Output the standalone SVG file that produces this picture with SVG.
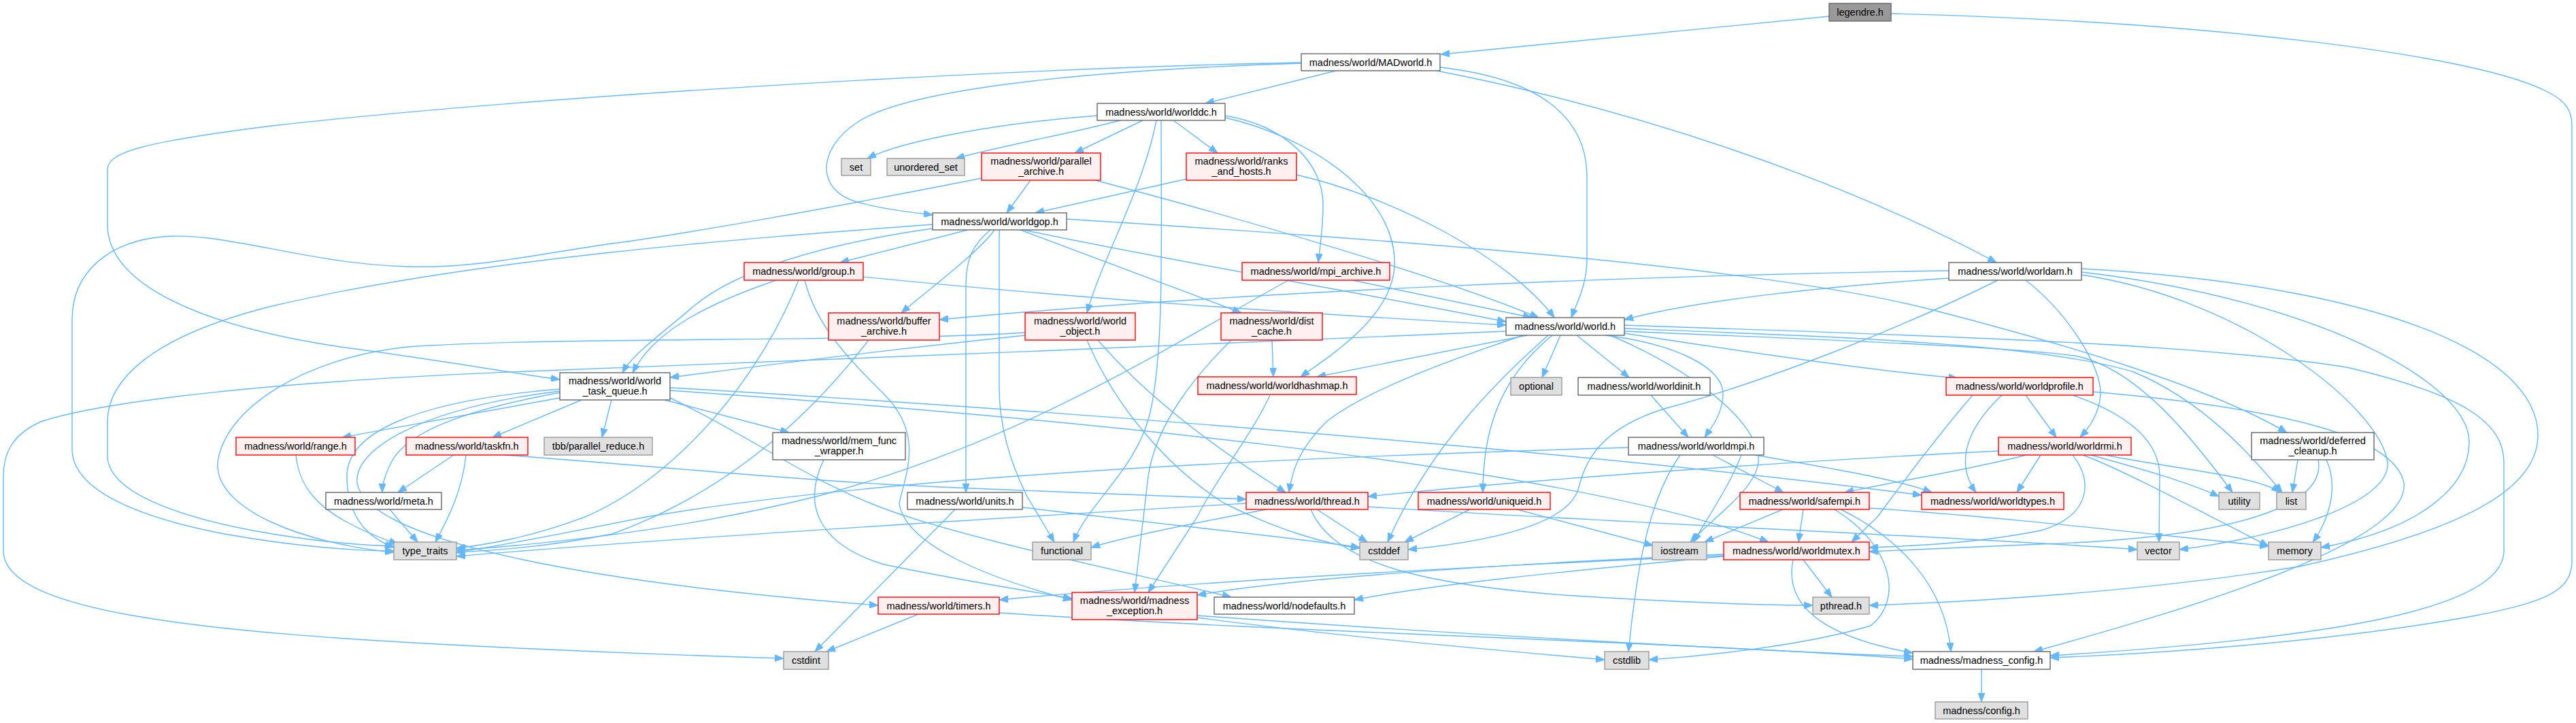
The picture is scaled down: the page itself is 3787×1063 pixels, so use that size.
<svg xmlns="http://www.w3.org/2000/svg" width="3787" height="1063" viewBox="0 0 3787 1063">
<defs>
<marker id="ah" viewBox="0 0 13 10" refX="13" refY="5" markerWidth="13" markerHeight="10" markerUnits="userSpaceOnUse" orient="auto"><path d="M0,0L13,5L0,10z" fill="#63B8FF" stroke="#63B8FF" stroke-width="1"/></marker>
</defs>
<style>
.e{fill:none;stroke:#63B8FF;stroke-width:1.4;marker-end:url(#ah)}
.w{fill:#fff;stroke:#666;stroke-width:1.4}
.r{fill:#FFF0F0;stroke:#F00;stroke-width:1.4}
.g{fill:#E0E0E0;stroke:#999;stroke-width:1.4}
.d{fill:#999;stroke:#666;stroke-width:1.4}
text{font-family:"Liberation Sans",Arial,sans-serif;font-size:14.5px;text-anchor:middle;fill:#000}
</style>
<rect width="3787" height="1063" fill="#fff"/>
<g id="edges">
<path class="e" d="M2689,24 L2118,80"/>
<path class="e" d="M2780,20 C3250,32 3640,80 3745,135 C3775,150 3781,165 3781,185 L3781,825 C3781,870 3740,885 3640,905 C3450,940 3200,960 3014,967"/>
<path class="e" d="M1964,104 L1772,152"/>
<path class="e" d="M1913,93 C1700,100 1350,120 1260,180 C1200,220 1200,280 1260,297 C1300,308 1340,312 1371,316"/>
<path class="e" d="M1913,92 C1500,100 800,140 400,185 C200,210 158,225 158,250 L158,330 C158,420 300,480 500,510 C650,530 750,548 823,558"/>
<path class="e" d="M2112,104 C2400,160 2700,260 2935,386"/>
<path class="e" d="M2117,99 C2260,115 2333,170 2333,260 L2333,380 C2333,420 2318,445 2310,467"/>
<path class="e" d="M1613,170 C1480,180 1330,205 1275,233"/>
<path class="e" d="M1647,177 C1580,195 1470,215 1405,233"/>
<path class="e" d="M1680,177 L1580,225"/>
<path class="e" d="M1725,177 L1790,225"/>
<path class="e" d="M1707,177 C1707,350 1712,520 1690,610 C1670,690 1600,740 1578,797"/>
<path class="e" d="M1700,177 C1680,280 1620,380 1598,460"/>
<path class="e" d="M1801,170 C1890,185 1945,240 1945,300 C1945,340 1940,365 1938,386"/>
<path class="e" d="M1801,173 C1920,200 2045,280 2050,380 C2055,460 1960,520 1912,554"/>
<path class="e" d="M1515,265 L1480,313"/>
<path class="e" d="M1610,265 C1800,315 2100,400 2262,467"/>
<path class="e" d="M1443,262 C1200,310 1000,345 900,358 C780,375 700,395 600,392 C450,388 330,340 240,348 C160,355 106,400 106,470 L106,660 C106,720 200,760 330,785 C430,803 520,810 579,810"/>
<path class="e" d="M1745,263 L1522,313"/>
<path class="e" d="M1906,257 C2050,290 2220,380 2285,467"/>
<path class="e" d="M1423,338 L1235,386"/>
<path class="e" d="M1456,338 C1430,360 1420,380 1420,420 L1420,724"/>
<path class="e" d="M1462,338 C1440,370 1360,430 1325,460"/>
<path class="e" d="M1469,338 L1469,570 C1469,640 1495,700 1510,730 L1550,797"/>
<path class="e" d="M1500,338 L1825,460"/>
<path class="e" d="M1505,338 C1700,380 2000,430 2214,473"/>
<path class="e" d="M1371,330 C1100,350 700,380 400,450 C220,495 158,560 158,620 L158,670 C158,720 250,760 400,785 C480,798 540,802 579,803"/>
<path class="e" d="M1371,336 C1200,360 1080,400 1020,450 C980,485 930,520 915,548"/>
<path class="e" d="M1568,322 C2000,350 2600,390 2850,458 C3050,510 3250,570 3362,636"/>
<path class="e" d="M1141,412 C1030,450 960,490 930,548"/>
<path class="e" d="M1269,407 C1600,440 1900,460 2214,478"/>
<path class="e" d="M1174,412 C1120,550 1000,700 860,760 C780,790 720,800 671,806"/>
<path class="e" d="M1183,412 C1200,480 1250,530 1300,580 C1360,640 1330,700 1322,740 C1330,800 1450,850 1576,882"/>
<path class="e" d="M1988,412 L2252,467"/>
<path class="e" d="M1894,412 C1700,520 1500,650 1200,730 C1000,780 800,800 671,809"/>
<path class="e" d="M2865,409 C2700,420 2500,440 2388,470"/>
<path class="e" d="M2865,398 C2400,405 1800,430 1381,470"/>
<path class="e" d="M2978,412 C3040,460 3090,540 3088,580 C3086,610 3070,630 3058,643"/>
<path class="e" d="M2937,412 C2800,480 2600,560 2450,600 C2350,630 2330,680 2320,720 C2300,780 2150,800 2070,808"/>
<path class="e" d="M3060,404 C3300,440 3500,600 3510,680 C3515,740 3350,790 3204,808"/>
<path class="e" d="M3060,400 C3400,440 3630,560 3630,650 C3630,720 3550,780 3412,805"/>
<path class="e" d="M3060,395 C3500,420 3731,520 3731,640 C3731,720 3620,780 3380,833 C3150,870 2900,885 2748,890"/>
<path class="e" d="M1277,500 C1200,600 1080,720 900,785 C800,805 720,810 671,812"/>
<path class="e" d="M1507,493 C1300,515 1100,540 985,555"/>
<path class="e" d="M1507,489 C1300,503 800,495 600,510 C450,525 330,600 320,680 C315,750 450,800 579,812"/>
<path class="e" d="M1614,500 C1700,600 1820,680 1890,724"/>
<path class="e" d="M1598,500 C1640,600 1720,690 1800,740 C1880,780 1950,800 1999,806"/>
<path class="e" d="M1870,500 L1872,554"/>
<path class="e" d="M1810,500 C1760,550 1700,620 1688,700 L1668,871"/>
<path class="e" d="M2245,493 L1936,554"/>
<path class="e" d="M2294,493 L2267,555"/>
<path class="e" d="M2318,493 L2395,555"/>
<path class="e" d="M2360,493 C2460,505 2535,540 2533,580 C2532,610 2515,630 2506,643"/>
<path class="e" d="M2388,490 C2550,515 2750,545 2878,556"/>
<path class="e" d="M2214,487 C1800,505 1200,530 800,545 C400,560 150,590 60,620 C15,640 5,670 5,700 L5,810 C5,900 300,930 700,950 C900,960 1050,965 1152,968"/>
<path class="e" d="M2239,493 C2100,540 2000,580 1950,620 C1910,660 1900,690 1895,724"/>
<path class="e" d="M2276,493 C2200,560 2100,660 2040,797"/>
<path class="e" d="M2282,493 C2200,560 2180,640 2180,724"/>
<path class="e" d="M2367,493 C2480,540 2590,620 2585,680 C2580,720 2520,760 2485,797"/>
<path class="e" d="M2388,478 C2700,490 3200,500 3450,540 C3620,580 3681,620 3681,680 L3681,810 C3681,900 3400,940 3014,964"/>
<path class="e" d="M2388,483 C2700,495 3000,505 3137,547 C3240,590 3310,670 3355,724"/>
<path class="e" d="M2388,487 C2700,500 2950,510 3050,523 C3140,540 3220,640 3282,724"/>
<path class="e" d="M2427,581 L2482,643"/>
<path class="e" d="M2978,581 L3023,643"/>
<path class="e" d="M2943,581 C2880,640 2880,690 2905,724"/>
<path class="e" d="M2900,581 C2840,650 2790,720 2760,760 L2722,797"/>
<path class="e" d="M3077,576 C3350,600 3520,640 3534,710 C3545,800 3200,900 2990,958"/>
<path class="e" d="M3047,581 C3130,610 3175,650 3175,700 L3174,797"/>
<path class="e" d="M2978,669 C2900,690 2800,705 2712,724"/>
<path class="e" d="M2938,663 C2700,675 2300,700 2011,730"/>
<path class="e" d="M3000,669 L2965,724"/>
<path class="e" d="M3074,669 C3150,690 3220,710 3262,730"/>
<path class="e" d="M3095,669 C3200,690 3320,700 3352,724"/>
<path class="e" d="M3062,669 C3120,690 3250,760 3335,803"/>
<path class="e" d="M3047,669 C3080,710 3070,760 3000,780 C2900,800 2800,803 2748,805"/>
<path class="e" d="M3378,676 L3370,724"/>
<path class="e" d="M3420,676 C3440,720 3420,770 3400,797"/>
<path class="e" d="M3408,676 C3420,740 3300,790 3000,800 C2880,805 2800,809 2748,811"/>
<path class="e" d="M823,585 L503,643"/>
<path class="e" d="M855,588 L724,643"/>
<path class="e" d="M899,588 L885,643"/>
<path class="e" d="M977,588 L1160,636"/>
<path class="e" d="M824,577 C700,600 600,630 575,680 C565,700 562,715 562,724"/>
<path class="e" d="M823,572 C600,590 510,640 510,700 C510,760 540,790 579,805"/>
<path class="e" d="M823,575 C620,600 520,660 525,710 C540,800 900,860 1291,890"/>
<path class="e" d="M985,585 C1100,640 1180,700 1280,740 C1400,790 1700,850 1810,878"/>
<path class="e" d="M985,570 C1500,600 2300,660 2825,728"/>
<path class="e" d="M985,574 C1500,610 2300,680 2600,797"/>
<path class="e" d="M667,669 L585,724"/>
<path class="e" d="M685,669 C680,720 660,760 640,797"/>
<path class="e" d="M742,669 C900,680 1100,700 1300,712 C1500,722 1700,728 1832,734"/>
<path class="e" d="M435,669 C440,720 470,760 585,800"/>
<path class="e" d="M573,749 L614,797"/>
<path class="e" d="M1404,749 L1198,958"/>
<path class="e" d="M1503,746 C1700,770 1900,790 1999,805"/>
<path class="e" d="M1350,903 L1215,958"/>
<path class="e" d="M1469,901 C1900,930 2500,945 2812,969"/>
<path class="e" d="M1760,905 C2100,930 2600,958 2812,965"/>
<path class="e" d="M1760,908 C2000,940 2250,960 2359,970"/>
<path class="e" d="M1832,740 C1500,760 1000,790 671,818"/>
<path class="e" d="M1862,749 C1750,770 1650,790 1604,805"/>
<path class="e" d="M1936,749 L2010,797"/>
<path class="e" d="M1927,749 C1960,830 2100,860 2300,875 C2450,885 2600,890 2665,890"/>
<path class="e" d="M2011,745 C2400,770 2900,790 3142,808"/>
<path class="e" d="M2161,749 L2065,797"/>
<path class="e" d="M2230,749 L2430,802"/>
<path class="e" d="M2621,749 L2506,797"/>
<path class="e" d="M2651,749 L2644,797"/>
<path class="e" d="M2697,749 C2780,800 2800,880 2750,920 C2650,950 2500,965 2424,970"/>
<path class="e" d="M2706,749 C2790,790 2860,860 2868,958"/>
<path class="e" d="M2748,747 C2950,760 3200,790 3335,803"/>
<path class="e" d="M2651,823 L2693,878"/>
<path class="e" d="M2636,823 C2620,900 2700,940 2812,960"/>
<path class="e" d="M2534,818 C2300,840 2100,860 1991,882"/>
<path class="e" d="M2534,815 C2200,830 1900,850 1760,875"/>
<path class="e" d="M2534,817 C2100,835 1700,860 1469,882"/>
<path class="e" d="M1211,676 C1180,740 1200,800 1300,830 C1420,855 1520,870 1576,880"/>
<path class="e" d="M1867,581 C1840,640 1790,700 1760,760 L1688,871"/>
<path class="e" d="M2518,669 L2622,724"/>
<path class="e" d="M2470,669 C2420,740 2405,850 2394,958"/>
<path class="e" d="M2394,658 C1900,672 1300,700 950,760 C800,790 720,805 671,812"/>
<path class="e" d="M2560,669 C2540,720 2510,760 2490,797"/>
<path class="e" d="M2580,669 C2700,690 2790,705 2840,724"/>
<path class="e" d="M2913,984 L2913,1032"/>
</g>
<g id="n_legendre"><rect class="d" x="2689" y="5" width="91" height="26"/><text x="2734.5" y="23">legendre.h</text></g>
<g id="n_MADworld"><rect class="w" x="1913" y="79" width="204" height="25"/><text x="2015" y="96.5">madness/world/MADworld.h</text></g>
<g id="n_worlddc"><rect class="w" x="1613" y="152" width="188" height="25"/><text x="1707" y="169.5">madness/world/worlddc.h</text></g>
<g id="n_set"><rect class="g" x="1237" y="233" width="43" height="25"/><text x="1258.5" y="250.5">set</text></g>
<g id="n_unordered_set"><rect class="g" x="1304" y="233" width="114" height="25"/><text x="1361" y="250.5">unordered_set</text></g>
<g id="n_parallel_archive"><rect class="r" x="1443" y="225" width="175" height="40"/><text x="1530.5" y="242">madness/world/parallel</text><text x="1530.5" y="257">_archive.h</text></g>
<g id="n_ranks_and_hosts"><rect class="r" x="1744" y="225" width="162" height="40"/><text x="1825" y="242">madness/world/ranks</text><text x="1825" y="257">_and_hosts.h</text></g>
<g id="n_worldgop"><rect class="w" x="1371" y="313" width="197" height="25"/><text x="1469.5" y="330.5">madness/world/worldgop.h</text></g>
<g id="n_group"><rect class="r" x="1094" y="386" width="175" height="26"/><text x="1181.5" y="404">madness/world/group.h</text></g>
<g id="n_mpi_archive"><rect class="r" x="1826" y="386" width="217" height="26"/><text x="1934.5" y="404">madness/world/mpi_archive.h</text></g>
<g id="n_worldam"><rect class="w" x="2865" y="386" width="195" height="26"/><text x="2962.5" y="404">madness/world/worldam.h</text></g>
<g id="n_buffer_archive"><rect class="r" x="1218" y="460" width="163" height="40"/><text x="1299.5" y="477">madness/world/buffer</text><text x="1299.5" y="492">_archive.h</text></g>
<g id="n_world_object"><rect class="r" x="1507" y="460" width="162" height="40"/><text x="1588" y="477">madness/world/world</text><text x="1588" y="492">_object.h</text></g>
<g id="n_dist_cache"><rect class="r" x="1795" y="460" width="149" height="40"/><text x="1869.5" y="477">madness/world/dist</text><text x="1869.5" y="492">_cache.h</text></g>
<g id="n_world"><rect class="w" x="2214" y="467" width="174" height="26"/><text x="2301" y="485">madness/world/world.h</text></g>
<g id="n_world_task_queue"><rect class="w" x="823" y="548" width="162" height="40"/><text x="904" y="565">madness/world/world</text><text x="904" y="580">_task_queue.h</text></g>
<g id="n_worldhashmap"><rect class="r" x="1761" y="554" width="233" height="26"/><text x="1877.5" y="572">madness/world/worldhashmap.h</text></g>
<g id="n_optional"><rect class="g" x="2221" y="555" width="75" height="26"/><text x="2258.5" y="573">optional</text></g>
<g id="n_worldinit"><rect class="w" x="2320" y="555" width="194" height="26"/><text x="2417" y="573">madness/world/worldinit.h</text></g>
<g id="n_worldprofile"><rect class="r" x="2861" y="555" width="216" height="26"/><text x="2969" y="573">madness/world/worldprofile.h</text></g>
<g id="n_deferred_cleanup"><rect class="w" x="3310" y="636" width="180" height="40"/><text x="3400" y="653">madness/world/deferred</text><text x="3400" y="668">_cleanup.h</text></g>
<g id="n_range"><rect class="r" x="347" y="643" width="175" height="26"/><text x="434.5" y="661">madness/world/range.h</text></g>
<g id="n_taskfn"><rect class="r" x="597" y="643" width="179" height="26"/><text x="686.5" y="661">madness/world/taskfn.h</text></g>
<g id="n_tbb"><rect class="g" x="800" y="643" width="159" height="26"/><text x="879.5" y="661">tbb/parallel_reduce.h</text></g>
<g id="n_mem_func_wrapper"><rect class="w" x="1136" y="636" width="195" height="40"/><text x="1233.5" y="653">madness/world/mem_func</text><text x="1233.5" y="668">_wrapper.h</text></g>
<g id="n_worldmpi"><rect class="w" x="2394" y="643" width="199" height="26"/><text x="2493.5" y="661">madness/world/worldmpi.h</text></g>
<g id="n_worldrmi"><rect class="r" x="2938" y="643" width="195" height="26"/><text x="3035.5" y="661">madness/world/worldrmi.h</text></g>
<g id="n_meta"><rect class="w" x="479" y="724" width="170" height="25"/><text x="564" y="741.5">madness/world/meta.h</text></g>
<g id="n_units"><rect class="w" x="1334" y="724" width="169" height="25"/><text x="1418.5" y="741.5">madness/world/units.h</text></g>
<g id="n_thread"><rect class="r" x="1832" y="724" width="179" height="25"/><text x="1921.5" y="741.5">madness/world/thread.h</text></g>
<g id="n_uniqueid"><rect class="r" x="2085" y="724" width="194" height="25"/><text x="2182" y="741.5">madness/world/uniqueid.h</text></g>
<g id="n_safempi"><rect class="r" x="2558" y="724" width="190" height="25"/><text x="2653" y="741.5">madness/world/safempi.h</text></g>
<g id="n_worldtypes"><rect class="r" x="2825" y="724" width="209" height="25"/><text x="2929.5" y="741.5">madness/world/worldtypes.h</text></g>
<g id="n_utility"><rect class="g" x="3262" y="724" width="60" height="25"/><text x="3292" y="741.5">utility</text></g>
<g id="n_list"><rect class="g" x="3347" y="724" width="43" height="25"/><text x="3368.5" y="741.5">list</text></g>
<g id="n_type_traits"><rect class="g" x="579" y="797" width="92" height="26"/><text x="625" y="815">type_traits</text></g>
<g id="n_functional"><rect class="g" x="1518" y="797" width="86" height="26"/><text x="1561" y="815">functional</text></g>
<g id="n_cstddef"><rect class="g" x="1999" y="797" width="71" height="26"/><text x="2034.5" y="815">cstddef</text></g>
<g id="n_iostream"><rect class="g" x="2429" y="797" width="80" height="26"/><text x="2469" y="815">iostream</text></g>
<g id="n_worldmutex"><rect class="r" x="2534" y="797" width="214" height="26"/><text x="2641" y="815">madness/world/worldmutex.h</text></g>
<g id="n_vector"><rect class="g" x="3142" y="797" width="62" height="26"/><text x="3173" y="815">vector</text></g>
<g id="n_memory"><rect class="g" x="3335" y="797" width="77" height="26"/><text x="3373.5" y="815">memory</text></g>
<g id="n_timers"><rect class="r" x="1291" y="878" width="178" height="25"/><text x="1380" y="895.5">madness/world/timers.h</text></g>
<g id="n_madness_exception"><rect class="r" x="1576" y="871" width="184" height="40"/><text x="1668" y="888">madness/world/madness</text><text x="1668" y="903">_exception.h</text></g>
<g id="n_nodefaults"><rect class="w" x="1785" y="878" width="206" height="25"/><text x="1888" y="895.5">madness/world/nodefaults.h</text></g>
<g id="n_pthread"><rect class="g" x="2665" y="878" width="83" height="25"/><text x="2706.5" y="895.5">pthread.h</text></g>
<g id="n_cstdint"><rect class="g" x="1152" y="958" width="66" height="26"/><text x="1185" y="976">cstdint</text></g>
<g id="n_cstdlib"><rect class="g" x="2359" y="958" width="65" height="26"/><text x="2391.5" y="976">cstdlib</text></g>
<g id="n_madness_config"><rect class="w" x="2812" y="958" width="202" height="26"/><text x="2913" y="976">madness/madness_config.h</text></g>
<g id="n_config"><rect class="g" x="2845" y="1032" width="136" height="25"/><text x="2913" y="1049.5">madness/config.h</text></g>
</svg>
